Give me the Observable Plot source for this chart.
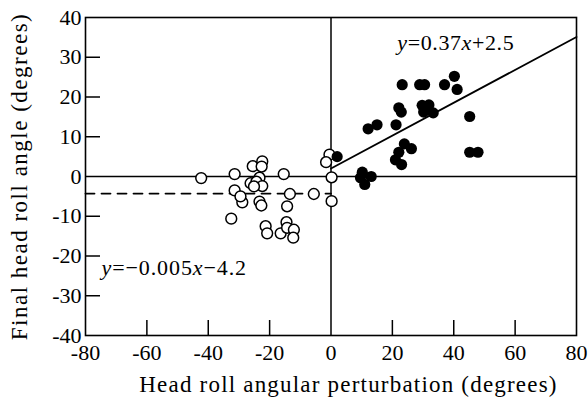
<!DOCTYPE html>
<html>
<head>
<meta charset="utf-8">
<script src="https://cdn.jsdelivr.net/npm/d3@7"></script>
<script src="https://cdn.jsdelivr.net/npm/@observablehq/plot@0.6"></script>
<style>
  html, body { margin: 0; padding: 0; background: #fff; }
</style>
</head>
<body>
<div id="chart"></div>
<script>
// Open circles: negative perturbations
const openX = [-42.3, -31.4, -25.5, -22.4, -22.6, -23.3, -26.2, -24.3, -22.4, -25.1, -15.4, -31.4, -28.9, -29.5, -23.3, -22.7, -13.4, -14.3, -5.6, -32.5, -21.3, -20.8, -16.4, -14.5, -14.3, -12.1, -12.3, 0.2, 0.2, -0.5, -1.6];
const openY = [-0.4, 0.6, 2.6, 3.8, 2.5, -0.3, -1.7, -1.3, -2.4, -2.5, 0.6, -3.5, -6.5, -5.0, -6.3, -7.3, -4.4, -7.5, -4.4, -10.6, -12.5, -14.3, -14.3, -11.5, -12.9, -13.4, -15.4, -0.2, -6.2, 5.5, 3.6];
// Filled circles: positive perturbations
const fillX = [23.2, 28.9, 30.5, 37.0, 40.2, 41.1, 22.1, 22.9, 29.7, 31.9, 30.2, 33.3, 45.2, 12.1, 15.0, 21.2, 23.9, 26.2, 22.1, 21.0, 23.0, 45.2, 47.9, 2.0, 10.2, 13.1, 11.0, 9.6];
const fillY = [23.1, 23.1, 23.1, 23.1, 25.2, 21.9, 17.3, 16.2, 17.9, 18.0, 16.2, 16.0, 15.1, 12.0, 13.0, 13.0, 8.2, 7.0, 6.1, 4.2, 3.0, 6.1, 6.1, 5.0, 1.1, 0.0, -2.0, -0.3];
// Fitted lines (endpoints as drawn)
const posFitX = [0, 80];
const posFitY = [2.0, 35.1];
const negFitX = [-80, 0];
const negFitY = [-4.3, -4.3];
// Tick labels
const xTickLabels = [-80, -60, -40, -20, 0, 20, 40, 60, 80];
const yTickLabels = [-40, -30, -20, -10, 0, 10, 20, 30, 40];
const xInnerTicks = [-60, -40, -20, 20, 40, 60];
const yInnerTicks = [-30, -20, -10, 10, 20, 30];
// Texts
const xTitle = "Head roll angular perturbation (degrees)";
const yTitle = "Final head roll angle (degrees)";
const eqPos = "y=0.37x+2.5";
const eqNeg = "y=\u22120.005x\u22124.2";

const openPts = openX.map((x, i) => ({x, y: openY[i]}));
const fillPts = fillX.map((x, i) => ({x, y: fillY[i]}));
const posFit = posFitX.map((x, i) => ({x, y: posFitY[i]}));
const negFit = negFitX.map((x, i) => ({x, y: negFitY[i]}));

const W = 588, H = 398, mL = 85, mR = 12, mT = 17, mB = 63;
const innerW = W - mL - mR, innerH = H - mT - mB;

const svg = Plot.plot({
  width: W, height: H,
  marginLeft: mL, marginRight: mR, marginTop: mT, marginBottom: mB,
  style: {fontFamily: "'Liberation Serif', 'Times New Roman', serif", fontSize: "22px", color: "#000", background: "#fff"},
  x: {domain: [-80, 80]},
  y: {domain: [-40, 40]},
  marks: [
    Plot.ruleY([0], {stroke: "#000", strokeWidth: 1.5}),
    Plot.ruleX([0], {stroke: "#000", strokeWidth: 1.5}),
    Plot.tickX(xInnerTicks, {x: d => d, insetTop: innerH - 15, stroke: "#000", strokeWidth: 1.5}),
    Plot.tickY(yInnerTicks, {y: d => d, insetRight: innerW - 15, stroke: "#000", strokeWidth: 1.5}),
    Plot.axisX(xTickLabels, {tickSize: 0, tickPadding: 9, label: null, tickFormat: d => String(d), fontSize: 22}),
    Plot.axisY(yTickLabels, {tickSize: 0, tickPadding: 4, label: null, tickFormat: d => String(d), fontSize: 22}),
    Plot.line(negFit, {x: "x", y: "y", stroke: "#000", strokeWidth: 1.8, strokeDasharray: "9,7"}),
    Plot.line(posFit, {x: "x", y: "y", stroke: "#000", strokeWidth: 1.8}),
    Plot.dot(openPts, {x: "x", y: "y", r: 5.4, fill: "#fff", stroke: "#000", strokeWidth: 1.5}),
    Plot.dot(fillPts, {x: "x", y: "y", r: 5.6, fill: "#000", stroke: "none"}),
    Plot.frame({stroke: "#000", strokeWidth: 1.6}),
    Plot.text([eqPos], {x: 21.6, y: 31.9, text: d => d, textAnchor: "start", lineAnchor: "bottom", fontSize: 22, className: "eq"}),
    Plot.text([eqNeg], {x: -74.8, y: -24.9, text: d => d, textAnchor: "start", lineAnchor: "bottom", fontSize: 22, className: "eq"}),
    Plot.text([xTitle], {frameAnchor: "bottom", text: d => d, dy: 49.6, dx: 17.5, lineAnchor: "middle", textAnchor: "middle", fontSize: 23, className: "xtitle"}),
    Plot.text([yTitle], {frameAnchor: "left", text: d => d, dx: -66, rotate: -90, lineAnchor: "middle", textAnchor: "middle", fontSize: 23, className: "ytitle"})
  ]
});

// Italicize the variables x and y in the equations
svg.querySelectorAll("g.eq text").forEach(t => {
  const s = t.textContent;
  while (t.firstChild) t.removeChild(t.firstChild);
  for (const ch of s) {
    const ts = document.createElementNS("http://www.w3.org/2000/svg", "tspan");
    ts.textContent = ch;
    if (ch === "x" || ch === "y") ts.setAttribute("font-style", "italic");
    t.appendChild(ts);
  }
});
svg.querySelectorAll("g.eq text").forEach((t, i) => { t.style.letterSpacing = i === 0 ? "0.6px" : "0.9px"; });
svg.querySelectorAll("g.xtitle text").forEach(t => { t.style.letterSpacing = "1.2px"; });
svg.querySelectorAll("g.ytitle text").forEach(t => { t.style.letterSpacing = "1.5px"; });

document.getElementById("chart").appendChild(svg);
</script>
</body>
</html>
